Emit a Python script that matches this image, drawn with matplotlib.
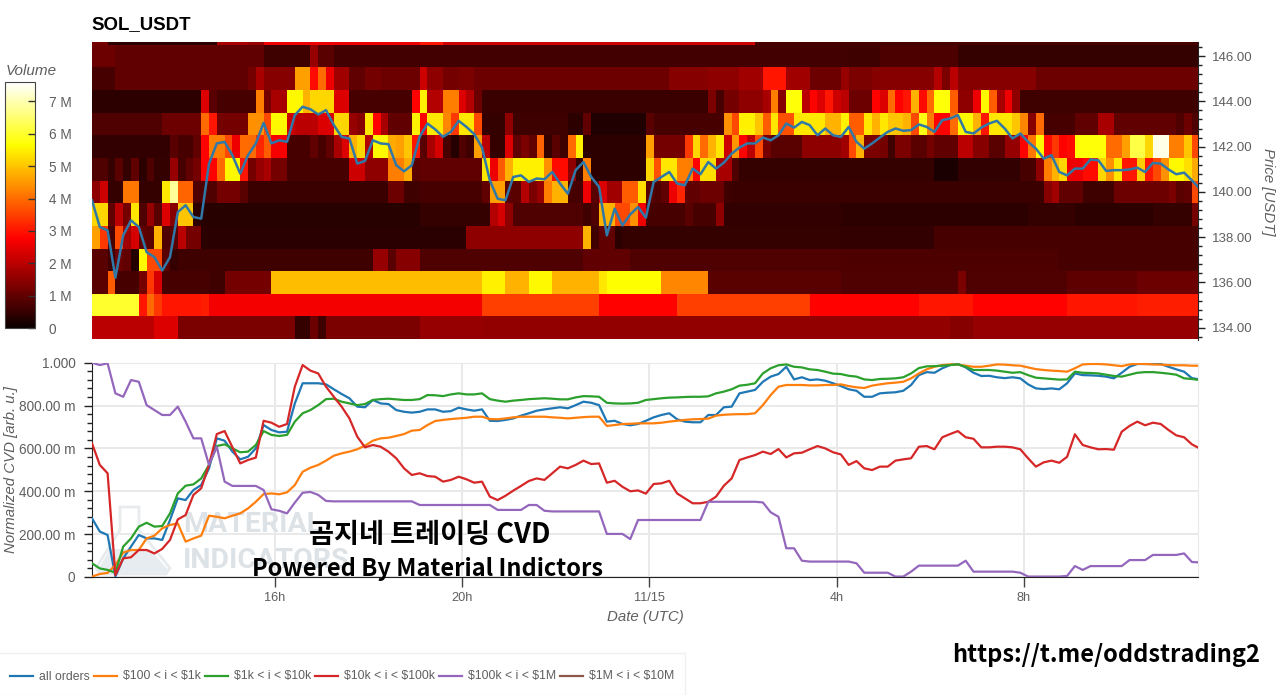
import numpy as np
import matplotlib
matplotlib.use("Agg")
import matplotlib.pyplot as plt
from matplotlib.lines import Line2D
from matplotlib.patches import Polygon, Rectangle
from matplotlib.ticker import MultipleLocator, FixedLocator, FuncFormatter

plt.rcParams['font.family'] = ['Liberation Sans', 'DejaVu Sans']

W, H = 1280, 695
N_COLS = 142

# heatmap rows, each run is (column where the run stops, volume in M)
row_147 = [(2,1.2),(16,0.4),(20,1.8),(22,1.6),(42,2.6),(45,3.0),(85,2.2),(142,0.7)]
row_146 = [(3,1.1),(22,1.0),(28,0.6),(29,1.6),(31,0.9),(96,0.65),(101,0.6),(111,0.75),(142,0.5)]
row_145 = [(3,0.7),(20,1.0),(21,1.2),(22,1.8),(26,1.4),(28,4.6),(29,2.9),(30,4.0),(31,2.6),(33,1.7),(35,1.0),
           (37,1.2),(42,1.1),(43,2.2),(45,1.5),(47,1.2),(49,1.3),(74,1.1),(79,1.4),(83,1.5),(86,1.7),(89,3.0),
           (92,1.7),(96,1.1),(97,1.6),(100,1.3),(108,1.4),(109,1.9),(110,1.3),(111,2.0),(121,1.4),(142,1.1)]
row_144 = [(14,0.4),(15,2.4),(16,0.9),(21,0.7),(22,4.2),(23,1.2),(25,1.8),(27,5.6),(28,4.8),(31,5.2),(33,2.4),
           (41,0.7),(42,2.8),(43,5.5),(45,1.9),(47,4.2),(48,2.4),(49,1.9),(50,1.1),(79,0.55),(80,1.3),(81,0.7),
           (83,1.2),(86,1.5),(87,1.8),(88,4.2),(89,1.4),(91,5.7),(92,2.0),(93,2.8),(94,2.4),(95,3.0),(96,2.2),
           (97,2.0),(100,1.1),(101,2.8),(102,2.4),(103,4.0),(104,2.8),(105,3.0),(106,4.8),(107,2.9),(108,4.0),
           (110,5.7),(111,3.8),(113,1.5),(114,2.6),(115,5.6),(116,3.8),(117,1.8),(118,2.6),(119,1.5),(142,0.6)]
row_143 = [(9,0.8),(14,1.1),(15,4.0),(16,3.0),(20,1.2),(22,4.4),(23,3.6),(25,5.6),(26,2.2),(29,2.0),(31,2.4),
           (33,5.2),(34,1.6),(35,1.4),(36,5.4),(37,2.8),(38,1.8),(41,1.0),(42,5.5),(43,2.8),(45,5.4),(46,4.3),
           (47,3.4),(49,5.4),(50,3.6),(53,0.5),(54,1.5),(61,0.6),(63,0.4),(64,1.0),(71,0.25),(72,0.9),(81,0.7),
           (82,4.4),(83,3.6),(85,5.5),(86,5.0),(87,3.8),(88,5.4),(90,3.7),(94,5.4),(96,4.8),(97,5.5),(99,3.8),
           (100,5.4),(101,4.8),(102,5.4),(104,5.0),(105,4.8),(106,3.6),(107,5.8),(108,4.2),(110,2.8),(111,4.0),
           (113,5.6),(114,4.8),(115,3.0),(118,5.4),(119,5.0),(120,4.3),(121,1.4),(122,4.0),(126,0.7),(129,1.0),
           (131,1.8),(139,1.0),(140,0.8),(141,1.1),(142,0.8)]
row_142 = [(10,0.45),(11,0.9),(13,0.7),(14,1.0),(15,2.8),(17,4.2),(18,3.6),(19,2.6),(21,4.0),(22,3.2),(23,3.8),
           (25,2.7),(28,0.7),(29,1.0),(30,0.7),(31,1.0),(32,1.8),(33,2.4),(34,4.8),(35,5.2),(36,1.9),(38,5.6),
           (39,4.7),(40,4.6),(41,5.0),(42,3.0),(43,0.9),(44,1.8),(45,2.3),(46,0.7),(47,0.3),(48,0.8),(49,0.6),
           (50,4.6),(51,2.0),(53,0.5),(54,2.4),(55,1.0),(56,1.3),(57,1.0),(58,3.9),(59,0.5),(60,0.9),(61,0.6),
           (62,4.0),(63,5.5),(71,0.4),(72,4.6),(76,1.2),(77,3.4),(78,5.2),(79,4.0),(80,4.8),(81,5.4),(82,2.2),
           (83,4.5),(84,2.8),(85,2.0),(86,3.6),(87,1.2),(91,0.9),(96,1.5),(97,1.7),(98,3.6),(99,4.8),(101,1.3),
           (102,1.2),(103,0.6),(105,1.3),(107,0.9),(108,1.2),(111,1.0),(113,2.0),(115,1.4),(117,0.9),(119,1.6),
           (120,2.8),(121,4.1),(122,5.6),(123,2.9),(124,3.4),(125,2.8),(126,2.9),(130,5.7),(132,4.0),(133,4.6),
           (135,6.2),(136,5.2),(138,7.4),(139,4.2),(140,4.2),(141,5.0),(142,3.6)]
row_141 = [(2,0.8),(3,0.5),(4,0.9),(5,0.5),(6,1.0),(7,0.4),(8,0.8),(10,0.5),(11,1.6),(12,0.7),(13,1.0),(14,1.2),
           (16,2.8),(17,4.0),(19,5.6),(20,3.0),(21,1.2),(22,1.6),(23,1.8),(25,1.2),(33,0.7),(35,2.2),(38,1.5),
           (40,4.2),(41,4.7),(42,0.9),(50,1.0),(51,5.4),(52,2.6),(53,3.8),(54,4.8),(58,5.5),(59,4.4),(61,2.9),
           (62,1.5),(63,0.5),(64,4.2),(71,0.4),(72,5.2),(73,3.7),(75,5.4),(77,4.2),(78,2.8),(80,5.3),(82,1.8),
           (83,0.8),(108,0.5),(111,0.2),(119,0.45),(121,0.7),(122,1.5),(123,4.2),(124,4.8),(125,5.2),(127,2.6),
           (129,2.9),(130,5.2),(131,4.4),(132,5.4),(134,3.0),(135,5.1),(136,3.0),(137,3.6),(138,4.4),(140,5.6),
           (141,5.3),(142,4.7)]
row_140 = [(1,1.5),(2,2.2),(4,0.5),(6,4.1),(9,0.5),(10,5.4),(11,6.8),(13,3.9),(16,0.8),(19,1.2),(20,0.9),(38,0.55),
           (40,1.1),(42,0.6),(50,0.7),(51,1.0),(53,4.6),(55,0.9),(56,1.9),(57,1.3),(58,1.6),(59,4.2),(61,4.8),(63,0.7),
           (64,2.6),(65,0.9),(66,2.4),(68,1.7),(70,3.8),(71,5.3),(72,0.9),(73,0.8),(74,1.0),(75,2.6),(76,3.2),(78,1.0),
           (81,1.1),(82,0.6),(122,0.55),(123,1.4),(124,1.7),(127,1.0),(131,0.6),(138,1.1),(139,1.3),(140,0.9),(141,1.0),
           (142,3.6)]
row_139 = [(2,5.2),(3,1.0),(4,2.0),(5,1.2),(6,5.4),(7,0.8),(8,1.6),(9,0.9),(10,2.4),(11,1.4),(13,5.0),(14,0.4),
           (42,0.35),(51,0.5),(52,1.9),(53,2.3),(54,1.5),(63,0.8),(64,0.6),(65,0.8),(67,4.8),(69,3.6),(70,4.4),(71,2.6),
           (76,0.7),(77,0.9),(80,0.7),(81,1.5),(96,0.45),(120,0.4),(126,0.5),(136,0.4),(141,0.5),(142,1.2)]
row_138 = [(1,4.6),(2,3.4),(3,0.7),(4,3.6),(5,1.7),(6,2.3),(7,1.0),(8,0.9),(9,4.8),(10,0.8),(11,0.9),(12,2.0),(14,1.2),
           (48,0.38),(63,1.5),(64,4.8),(65,0.6),(67,1.0),(68,0.4),(96,0.5),(108,0.45),(142,0.7)]
row_137 = [(2,0.9),(3,0.6),(4,1.1),(5,1.0),(6,0.3),(7,5.6),(9,3.6),(10,0.9),(11,0.5),(36,0.6),(38,1.6),(39,0.9),(42,1.4),
           (63,0.8),(69,1.0),(96,0.8),(124,0.75),(142,0.7)]
row_136 = [(2,0.9),(3,3.8),(6,0.7),(7,1.2),(8,3.4),(9,2.3),(15,0.7),(17,0.6),(23,1.2),(50,4.9),(53,5.5),(56,4.8),(59,5.6),
           (65,4.8),(66,5.4),(73,5.65),(79,4.3),(96,0.9),(111,0.8),(112,1.3),(125,0.8),(134,0.95),(142,1.1)]
row_135 = [(6,6.0),(7,3.0),(8,4.0),(9,3.4),(14,3.0),(15,3.1),(50,2.65),(65,3.5),(75,2.8),(92,3.5),(106,2.8),(113,3.0),
           (125,2.8),(134,3.0),(142,3.1)]
row_134 = [(8,2.0),(11,2.4),(26,1.3),(28,0.5),(29,1.1),(30,0.6),(42,1.3),(50,1.6),(110,1.55),(113,1.4),(142,1.6)]

heat_rows = [row_134, row_135, row_136, row_137, row_138, row_139, row_140, row_141,
             row_142, row_143, row_144, row_145, row_146, row_147]

price = [139.63,138.45,138.30,136.21,138.08,138.74,138.45,137.34,137.12,136.53,137.12,139.11,139.41,138.89,138.82,
         141.25,142.14,142.21,141.62,140.81,141.62,142.14,143.05,142.14,142.28,142.21,143.39,143.76,143.65,143.42,
         143.61,142.95,142.43,142.36,141.25,141.37,142.28,142.14,142.11,141.18,140.91,141.18,
         142.43,143.02,142.76,142.43,142.65,143.14,142.87,142.55,141.96,140.51,139.70,139.63,140.66,140.73,140.44,
         140.59,140.56,140.88,140.37,139.92,140.96,141.32,140.66,140.22,138.08,139.26,138.52,139.01,139.33,138.86,
         140.44,140.66,140.88,140.37,140.29,141.03,140.78,141.32,141.03,141.29,141.69,141.96,142.14,142.14,142.40,
         142.28,142.50,143.02,142.84,143.09,142.95,142.50,142.80,142.50,
         142.43,142.87,142.21,141.91,142.14,142.40,142.65,142.80,142.70,142.73,142.98,142.87,142.65,143.17,143.24,
         143.39,142.65,142.58,142.84,143.02,143.14,142.80,142.36,142.58,142.21,141.91,141.47,141.62,140.88,140.73,
         141.03,141.03,141.43,141.40,140.93,140.96,140.96,140.99,141.07,140.88,141.28,141.25,140.99,140.78,140.85,
         140.51,140.14]

cvd_all = [.274,.212,.196,.002,.087,.142,.196,.180,.180,.173,.266,.367,.359,.406,.429,.507,.647,.636,.585,.549,.561,
           .600,.709,.686,.675,.678,.810,.904,.904,.904,.899,.876,.854,.834,.795,.792,.826,.810,.807,.779,.771,.767,
           .771,.782,.782,.771,.774,.790,.782,.776,.782,.729,.728,.733,.740,.753,.764,.776,.782,.787,.792,.787,.802,
           .818,.813,.802,.725,.729,.714,.708,.714,.729,.745,.756,.764,.736,.725,.722,.722,.756,.756,.792,.795,.857,
           .865,.873,.911,.935,.947,.981,.922,.932,.919,.922,.916,.904,
           .891,.876,.869,.841,.841,.857,.860,.862,.869,.896,.942,.956,.953,.974,.989,.994,.978,.953,.938,.939,.932,
           .928,.932,.927,.899,.880,.877,.880,.876,.904,.950,.942,.941,.939,.935,.927,.953,.981,.994,.994,.994,.994,
           .981,.969,.958,.928,.922]
cvd_100_1k = [.002,.014,.019,.056,.114,.126,.126,.180,.193,.227,.243,.250,.165,.180,.193,.286,.281,.274,.286,.297,.320,
              .351,.387,.390,.386,.395,.429,.491,.510,.523,.543,.566,.577,.585,.596,.613,.636,.647,.650,.658,.667,.683,
              .686,.709,.728,.733,.737,.740,.743,.748,.748,.737,.736,.740,.745,.748,.748,.748,.748,.745,.743,.740,.743,
              .746,.748,.748,.705,.709,.714,.715,.717,.717,.717,.720,.725,.729,.733,.736,.737,.739,.753,.757,.759,.760,
              .760,.764,.802,.849,.888,.896,.896,.896,.894,.894,.896,.896,
              .899,.891,.885,.882,.893,.899,.904,.907,.911,.927,.950,.969,.981,.989,.992,.991,.986,.981,.981,.986,.992,
              .991,.988,.986,.978,.970,.966,.963,.961,.958,.974,.992,.994,.994,.992,.988,.984,.992,.995,.994,.992,.991,
              .989,.988,.988,.986,.986]
cvd_1k_10k = [.064,.040,.033,.020,.142,.180,.235,.253,.235,.238,.297,.390,.426,.432,.460,.523,.611,.619,.600,.582,.585,
              .616,.681,.663,.658,.663,.725,.764,.779,.802,.830,.832,.818,.810,.802,.807,.826,.830,.832,.829,.826,.826,
              .830,.849,.848,.844,.852,.857,.852,.852,.857,.830,.823,.818,.823,.826,.830,.832,.834,.832,.829,.829,.838,
              .844,.843,.841,.813,.810,.809,.810,.813,.826,.830,.834,.837,.838,.840,.841,.841,.843,.857,.865,.876,.893,
              .897,.904,.950,.974,.988,.992,.981,.978,.969,.966,.958,.949,
              .947,.939,.935,.922,.919,.924,.925,.927,.932,.950,.975,.983,.984,.986,.989,.992,.981,.966,.966,.966,.963,
              .958,.953,.956,.942,.930,.927,.924,.921,.922,.958,.953,.952,.950,.944,.938,.935,.944,.953,.956,.956,.953,
              .949,.944,.927,.924,.919]
cvd_10k_100k = [.624,.523,.484,.009,.087,.092,.126,.126,.110,.131,.173,.269,.289,.383,.414,.523,.667,.681,.605,.530,.546,
                .557,.729,.720,.701,.714,.888,.989,.963,.950,.888,.841,.795,.740,.655,.605,.616,.608,.585,.554,.507,.476,
                .484,.471,.468,.445,.453,.468,.456,.440,.445,.375,.359,.379,.403,.425,.448,.460,.453,.484,.515,.507,.523,
                .543,.527,.530,.440,.449,.421,.400,.404,.389,.434,.437,.449,.390,.367,.344,.344,.351,.375,.426,.460,.546,
                .558,.569,.585,.574,.597,.558,.577,.580,.596,.611,.600,.582,
                .572,.523,.541,.507,.499,.515,.515,.543,.549,.554,.608,.611,.596,.652,.667,.681,.652,.645,.605,.605,.608,
                .608,.605,.596,.554,.515,.535,.543,.533,.561,.666,.616,.605,.596,.597,.594,.678,.705,.725,.708,.720,.714,
                .686,.661,.652,.619,.600]
cvd_100k_1m = [1.0,.989,.997,.857,.841,.919,.911,.802,.779,.756,.756,.795,.725,.647,.647,.523,.608,.445,.425,.425,.425,
               .425,.406,.316,.309,.297,.347,.393,.397,.383,.355,.353,.353,.353,.353,.353,.353,.353,.353,.353,.353,.353,
               .336,.336,.336,.336,.336,.336,.336,.336,.336,.336,.313,.313,.313,.313,.336,.336,.309,.306,.306,.306,.306,
               .306,.306,.306,.201,.201,.201,.177,.266,.266,.266,.266,.266,.266,.266,.266,.266,.351,.351,.351,.351,.351,
               .351,.351,.348,.302,.281,.134,.134,.076,.072,.072,.072,.072,
               .072,.072,.064,.020,.020,.020,.020,.002,.002,.025,.053,.053,.053,.053,.053,.053,.076,.025,.025,.025,.025,
               .025,.025,.020,.002,.002,.002,.002,.002,.005,.051,.033,.051,.051,.051,.051,.051,.079,.079,.079,.103,.103,
               .103,.103,.110,.070,.068]

volume_ticks = [0, 1, 2, 3, 4, 5, 6, 7]
time_ticks = [16, 20, 24, 28, 32]
time_labels = ["16h", "20h", "11/15", "4h", "8h"]
legend_labels = ["all orders", "$100 < i < $1k", "$1k < i < $10k", "$10k < i < $100k",
                 "$100k < i < $1M", "$1M < i < $10M"]
legend_colors = ["#1f77b4", "#ff7f0e", "#2ca02c", "#d62728", "#9467bd", "#8c564b"]
legend_x = [10, 94, 205, 315, 439, 560]

GRAY = "#5f5f5f"
START_HOUR = 12.09
END_HOUR = 35.72
KR_FONT = ["Noto Sans CJK KR", "DejaVu Sans"]


def expand(runs):
    out = []
    start = 0
    for stop, val in runs:
        out += [val] * (stop - start)
        start = stop
    return out


def rect(x0, y0, x1, y1):
    # pixel box of the reference -> figure fraction
    return [x0 / W, 1 - y1 / H, (x1 - x0) / W, (y1 - y0) / H]


def fig_text(x, y, s, **kw):
    return fig.text(x / W, 1 - y / H, s, **kw)


def fig_pts(pts):
    return [(x / W, 1 - y / H) for x, y in pts]


fig = plt.figure(figsize=(W / 100, H / 100), dpi=100)
ax_heat = fig.add_axes(rect(92, 42, 1198, 340))
ax_cvd = fig.add_axes(rect(92, 362.7, 1198, 577))
cax = fig.add_axes(rect(5, 82, 35, 328))

hours = START_HOUR + np.arange(N_COLS + 1) / 6
price_edges = np.arange(133.5, 148.0, 1.0)
volume = np.array([expand(r) for r in heat_rows])

mesh = ax_heat.pcolormesh(hours, price_edges, volume, cmap="hot", vmin=0, vmax=7.6, shading="flat")
ax_heat.plot(hours, price, color="#2f78a8", lw=1.8, solid_joinstyle="round")
ax_heat.set_xlim(START_HOUR, END_HOUR)
ax_heat.set_ylim(133.46, 146.62)
ax_heat.set_xticks([])
ax_heat.yaxis.tick_right()
ax_heat.yaxis.set_major_locator(MultipleLocator(2))
ax_heat.yaxis.set_minor_locator(MultipleLocator(0.4))
ax_heat.yaxis.set_major_formatter(FuncFormatter(lambda v, p: f"{v:.2f}"))
ax_heat.tick_params(axis="y", which="major", length=5, width=1, labelsize=9.5, labelcolor=GRAY, pad=5, color="#222222")
ax_heat.tick_params(axis="y", which="minor", length=3, width=1, color="#222222")
for s in ax_heat.spines.values():
    s.set_visible(False)
ax_heat.spines["right"].set_visible(True)
ax_heat.spines["right"].set_color("#222222")
fig_text(1268, 192, "Price [USDT]", rotation=270, style="italic", color=GRAY, fontsize=10.8, ha="center", va="center")
fig_text(91.5, 25, "SOL_USDT", fontweight="bold", fontsize=13.4, ha="left", va="center", color="black")

cb = fig.colorbar(mesh, cax=cax)
cb.set_ticks(volume_ticks)
cb.set_ticklabels(["0"] + [f"{v} M" for v in volume_ticks[1:]])
cax.tick_params(length=5, direction="in", width=1, color="#333333", labelsize=9.8, labelcolor=GRAY, pad=10)
cb.outline.set_edgecolor("#444444")
fig_text(6, 71, "Volume", style="italic", color=GRAY, fontsize=11, ha="left", va="center")

# CVD panel
ax_cvd.set_xlim(START_HOUR, END_HOUR)
ax_cvd.set_ylim(0, 1)
ax_cvd.grid(True, which="major", color="#e9e9e9", lw=1.4)
ax_cvd.set_axisbelow(True)
series = [cvd_all, cvd_100_1k, cvd_1k_10k, cvd_10k_100k, cvd_100k_1m]
for vals, col in zip(series, legend_colors):
    ax_cvd.plot(hours, vals, color=col, lw=1.6, solid_joinstyle="round", zorder=3)
ax_cvd.xaxis.set_major_locator(FixedLocator(time_ticks))
ax_cvd.set_xticklabels(time_labels)
ax_cvd.yaxis.set_major_locator(MultipleLocator(0.2))
ax_cvd.yaxis.set_minor_locator(MultipleLocator(0.04))
ax_cvd.yaxis.set_major_formatter(FuncFormatter(
    lambda v, p: "0" if v < 0.01 else ("1.000" if v > 0.99 else f"{v * 1000:.2f} m")))
ax_cvd.tick_params(axis="x", length=7, width=1, labelsize=9.2, labelcolor=GRAY, color="#444444", pad=4)
ax_cvd.tick_params(axis="y", which="major", length=6, width=1, labelsize=9.8, labelcolor=GRAY, pad=6, color="#222222")
ax_cvd.tick_params(axis="y", which="minor", length=3.5, width=1, color="#222222")
ax_cvd.spines["top"].set_color("#e9e9e9")
ax_cvd.spines["right"].set_color("#e9e9e9")
ax_cvd.spines["left"].set_color("#222222")
ax_cvd.spines["bottom"].set_color("#222222")
fig_text(11, 470, "Normalized CVD [arb. u.]", rotation=90, style="italic", color=GRAY, fontsize=10.8, ha="center", va="center")
fig_text(645, 617, "Date (UTC)", style="italic", color=GRAY, fontsize=10.8, ha="center", va="center")

# faint watermark, flask outline and its liquid
flask_outline = [(120, 507), (139, 507), (139, 530), (170, 568), (166, 574), (100, 574), (96, 568), (120, 530)]
flask_liquid = [(110, 549), (150, 549), (168, 570), (164, 574), (102, 574), (98, 570)]
ax_cvd.add_patch(Polygon(fig_pts(flask_outline), closed=True, transform=fig.transFigure, facecolor="none",
                         edgecolor="#e8ebed", lw=2, zorder=1))
ax_cvd.add_patch(Polygon(fig_pts(flask_liquid), closed=True, transform=fig.transFigure, facecolor="#e6ecef",
                         edgecolor="none", zorder=1))
for txt, y in [("MATERIAL", 524.5), ("INDICATORS", 560)]:
    ax_cvd.text(183 / W, 1 - y / H, txt, transform=fig.transFigure, family="Roboto", fontweight="bold",
                fontsize=20.5, color="#dde2e6", ha="left", va="center", zorder=1)

fig_text(430, 535, "곰지네 트레이딩 CVD", family=KR_FONT, fontsize=19.6, fontweight="bold",
         color="black", ha="center", va="center", zorder=6)
fig_text(427, 569, "Powered By Material Indictors", family=KR_FONT, fontsize=17, fontweight="bold",
         color="black", ha="center", va="center", zorder=6)
fig_text(1106, 655, "https://t.me/oddstrading2", family=KR_FONT, fontsize=17, fontweight="bold",
         color="black", ha="center", va="center")

# legend strip
fig.add_artist(Rectangle((-0.01, 1 - 695 / H), 698 / W, 42 / H, transform=fig.transFigure,
                         facecolor="white", edgecolor="#f0f0f0", lw=1))
for lab, col, x in zip(legend_labels, legend_colors, legend_x):
    fig.add_artist(Line2D([x / W, (x + 23) / W], [1 - 675.5 / H] * 2, color=col, lw=1.6))
    fig_text(x + 29, 676.5, lab.replace("$", r"\$"), fontsize=8.8, color=GRAY, ha="left", va="center")

fig.savefig("out.png", dpi=100)
